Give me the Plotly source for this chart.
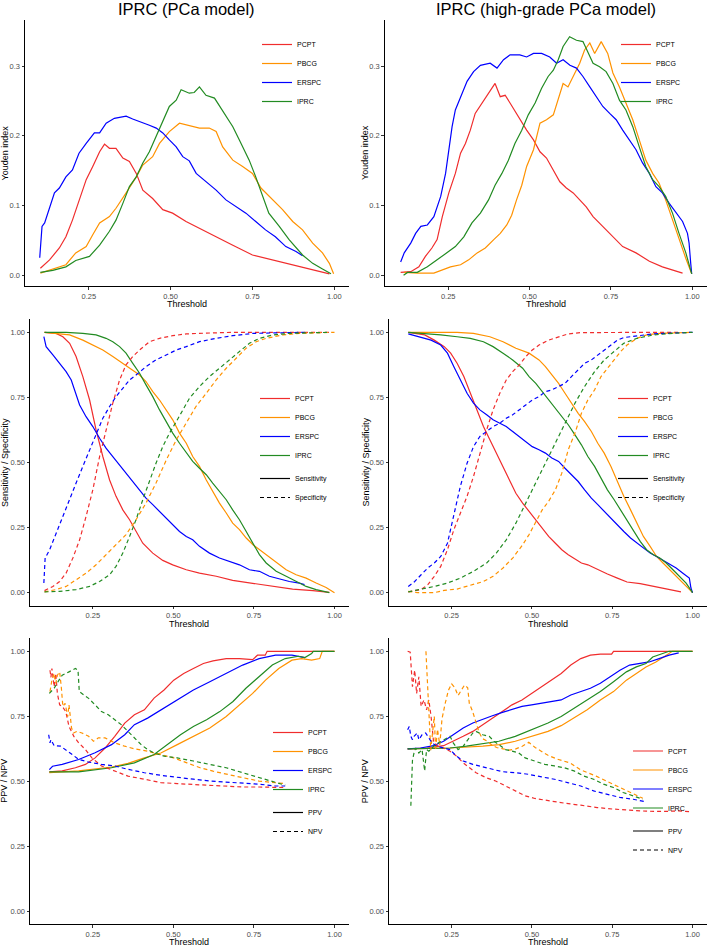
import plotly.graph_objects as go

# ---- data ----
models = ["PCPT", "PBCG", "ERSPC", "IPRC"]
x_ticks = [0.25, 0.5, 0.75, 1.0]
x_tick_labels = ["0.25", "0.50", "0.75", "1.00"]
yi_ticks = [0.0, 0.1, 0.2, 0.3]
yi_tick_labels = ["0.0", "0.1", "0.2", "0.3"]
p_ticks = [0.0, 0.25, 0.5, 0.75, 1.0]
p_tick_labels = ["0.00", "0.25", "0.50", "0.75", "1.00"]

# Youden index, PCa model
yi1_x_pcpt = [0.102, 0.13, 0.16, 0.18, 0.20, 0.22, 0.242, 0.262, 0.283, 0.298, 0.313, 0.333, 0.354, 0.374, 0.395, 0.415, 0.445, 0.476, 0.506, 0.547, 0.588, 0.639, 0.69, 0.75, 0.81, 0.873, 0.934, 0.985]
yi1_pcpt = [0.010, 0.022, 0.039, 0.055, 0.079, 0.108, 0.137, 0.156, 0.177, 0.188, 0.182, 0.182, 0.168, 0.163, 0.146, 0.122, 0.110, 0.094, 0.089, 0.077, 0.067, 0.055, 0.043, 0.029, 0.022, 0.015, 0.008, 0.002]
yi1_x_pbcg = [0.102, 0.14, 0.18, 0.21, 0.242, 0.262, 0.283, 0.313, 0.333, 0.364, 0.395, 0.415, 0.445, 0.466, 0.496, 0.527, 0.557, 0.588, 0.618, 0.639, 0.659, 0.69, 0.72, 0.75, 0.776, 0.801, 0.842, 0.873, 0.903, 0.934, 0.964, 0.985, 0.998]
yi1_pbcg = [0.003, 0.009, 0.015, 0.032, 0.041, 0.058, 0.075, 0.084, 0.096, 0.118, 0.141, 0.158, 0.170, 0.189, 0.206, 0.218, 0.215, 0.211, 0.211, 0.206, 0.184, 0.165, 0.156, 0.146, 0.125, 0.113, 0.094, 0.077, 0.065, 0.046, 0.032, 0.017, 0.002]
yi1_x_erspc = [0.100, 0.107, 0.115, 0.13, 0.145, 0.16, 0.18, 0.20, 0.22, 0.242, 0.267, 0.283, 0.303, 0.328, 0.364, 0.384, 0.415, 0.435, 0.456, 0.476, 0.496, 0.517, 0.537, 0.557, 0.578, 0.608, 0.639, 0.669, 0.70, 0.73, 0.76, 0.79, 0.82, 0.852, 0.883, 0.903]
yi1_erspc = [0.025, 0.070, 0.075, 0.098, 0.118, 0.125, 0.141, 0.151, 0.175, 0.189, 0.204, 0.204, 0.218, 0.225, 0.228, 0.224, 0.219, 0.215, 0.211, 0.204, 0.194, 0.184, 0.170, 0.164, 0.146, 0.134, 0.122, 0.108, 0.098, 0.089, 0.077, 0.065, 0.055, 0.041, 0.034, 0.028]
yi1_x_iprc = [0.102, 0.14, 0.18, 0.21, 0.252, 0.283, 0.313, 0.333, 0.354, 0.374, 0.395, 0.415, 0.435, 0.456, 0.476, 0.496, 0.517, 0.532, 0.557, 0.572, 0.588, 0.608, 0.634, 0.659, 0.69, 0.71, 0.74, 0.76, 0.781, 0.80, 0.832, 0.862, 0.903, 0.934, 0.964, 0.99]
yi1_iprc = [0.004, 0.007, 0.012, 0.021, 0.027, 0.043, 0.063, 0.079, 0.103, 0.127, 0.141, 0.161, 0.177, 0.199, 0.220, 0.242, 0.251, 0.266, 0.261, 0.262, 0.270, 0.258, 0.254, 0.235, 0.213, 0.194, 0.165, 0.141, 0.113, 0.089, 0.070, 0.051, 0.029, 0.017, 0.009, 0.002]

# Youden index, high-grade PCa model
yi2_x_pcpt = [0.104, 0.135, 0.16, 0.18, 0.20, 0.216, 0.232, 0.252, 0.272, 0.288, 0.303, 0.318, 0.333, 0.354, 0.374, 0.394, 0.41, 0.425, 0.44, 0.46, 0.476, 0.491, 0.512, 0.532, 0.552, 0.573, 0.593, 0.613, 0.634, 0.654, 0.674, 0.695, 0.725, 0.756, 0.786, 0.827, 0.868, 0.908, 0.97]
yi2_pcpt = [0.004, 0.005, 0.012, 0.027, 0.039, 0.051, 0.084, 0.118, 0.146, 0.175, 0.189, 0.208, 0.232, 0.247, 0.261, 0.275, 0.256, 0.258, 0.247, 0.232, 0.218, 0.208, 0.194, 0.177, 0.168, 0.151, 0.134, 0.125, 0.118, 0.108, 0.098, 0.084, 0.070, 0.055, 0.041, 0.032, 0.020, 0.012, 0.003]
yi2_x_pbcg = [0.115, 0.155, 0.206, 0.237, 0.257, 0.288, 0.313, 0.339, 0.364, 0.39, 0.41, 0.43, 0.445, 0.46, 0.476, 0.491, 0.512, 0.532, 0.552, 0.573, 0.588, 0.603, 0.618, 0.634, 0.654, 0.669, 0.685, 0.70, 0.72, 0.74, 0.756, 0.776, 0.796, 0.817, 0.837, 0.857, 0.878, 0.898, 0.918, 0.939, 0.959, 0.98, 0.998]
yi2_pbcg = [0.004, 0.003, 0.003, 0.008, 0.012, 0.015, 0.022, 0.032, 0.039, 0.051, 0.060, 0.072, 0.086, 0.108, 0.129, 0.156, 0.180, 0.218, 0.223, 0.230, 0.251, 0.275, 0.270, 0.285, 0.304, 0.323, 0.333, 0.318, 0.335, 0.318, 0.290, 0.270, 0.247, 0.223, 0.194, 0.165, 0.146, 0.132, 0.108, 0.079, 0.051, 0.024, 0.002]
yi2_x_erspc = [0.104, 0.115, 0.135, 0.15, 0.166, 0.186, 0.206, 0.227, 0.242, 0.252, 0.262, 0.272, 0.288, 0.308, 0.328, 0.349, 0.379, 0.40, 0.42, 0.44, 0.47, 0.491, 0.512, 0.537, 0.562, 0.583, 0.603, 0.624, 0.644, 0.664, 0.685, 0.705, 0.725, 0.746, 0.766, 0.786, 0.807, 0.827, 0.847, 0.868, 0.888, 0.908, 0.929, 0.949, 0.97, 0.985, 0.99, 0.995, 0.998]
yi2_erspc = [0.019, 0.032, 0.046, 0.060, 0.070, 0.072, 0.084, 0.113, 0.146, 0.180, 0.213, 0.237, 0.256, 0.278, 0.292, 0.301, 0.304, 0.297, 0.309, 0.316, 0.316, 0.313, 0.318, 0.318, 0.313, 0.304, 0.309, 0.301, 0.297, 0.285, 0.270, 0.256, 0.242, 0.232, 0.223, 0.208, 0.194, 0.180, 0.161, 0.146, 0.127, 0.118, 0.103, 0.091, 0.077, 0.060, 0.046, 0.017, 0.002]
yi2_x_iprc = [0.113, 0.125, 0.155, 0.186, 0.216, 0.247, 0.272, 0.298, 0.323, 0.349, 0.374, 0.394, 0.415, 0.435, 0.455, 0.476, 0.496, 0.517, 0.537, 0.557, 0.573, 0.588, 0.603, 0.623, 0.644, 0.664, 0.68, 0.695, 0.715, 0.735, 0.756, 0.776, 0.796, 0.817, 0.837, 0.857, 0.878, 0.898, 0.918, 0.939, 0.959, 0.98, 0.998]
yi2_iprc = [0.000, 0.004, 0.004, 0.012, 0.022, 0.032, 0.041, 0.055, 0.075, 0.089, 0.108, 0.129, 0.146, 0.165, 0.189, 0.208, 0.230, 0.247, 0.268, 0.285, 0.294, 0.309, 0.328, 0.342, 0.337, 0.335, 0.318, 0.304, 0.299, 0.292, 0.275, 0.251, 0.237, 0.213, 0.184, 0.156, 0.137, 0.127, 0.113, 0.089, 0.060, 0.032, 0.002]

# Sensitivity / specificity, PCa model
ss1_x_pcpt_sens = [0.10, 0.136, 0.157, 0.178, 0.198, 0.219, 0.24, 0.26, 0.281, 0.302, 0.322, 0.343, 0.364, 0.384, 0.405, 0.436, 0.467, 0.498, 0.54, 0.581, 0.633, 0.684, 0.747, 0.809, 0.87, 0.933, 0.984]
ss1_pcpt_sens = [1.0, 0.996, 0.983, 0.958, 0.907, 0.83, 0.74, 0.625, 0.523, 0.433, 0.37, 0.318, 0.28, 0.235, 0.19, 0.152, 0.124, 0.107, 0.088, 0.075, 0.063, 0.047, 0.035, 0.024, 0.014, 0.008, 0.001]
ss1_x_pcpt_spec = [0.10, 0.126, 0.147, 0.167, 0.188, 0.209, 0.229, 0.25, 0.271, 0.291, 0.312, 0.333, 0.353, 0.374, 0.395, 0.426, 0.457, 0.498, 0.54, 0.602, 0.684, 0.80, 0.90, 0.984]
ss1_pcpt_spec = [0.008, 0.024, 0.043, 0.075, 0.133, 0.203, 0.293, 0.395, 0.523, 0.625, 0.728, 0.817, 0.875, 0.907, 0.932, 0.964, 0.977, 0.987, 0.994, 0.997, 1.0, 1.0, 1.0, 1.0]
ss1_x_pbcg_sens = [0.10, 0.136, 0.178, 0.219, 0.25, 0.281, 0.312, 0.343, 0.374, 0.395, 0.415, 0.436, 0.457, 0.478, 0.498, 0.519, 0.54, 0.56, 0.581, 0.602, 0.622, 0.643, 0.664, 0.684, 0.705, 0.726, 0.747, 0.767, 0.788, 0.819, 0.85, 0.881, 0.912, 0.943, 0.974, 1.0]
ss1_pbcg_sens = [1.0, 0.996, 0.99, 0.97, 0.951, 0.932, 0.907, 0.881, 0.855, 0.836, 0.811, 0.772, 0.74, 0.702, 0.664, 0.613, 0.574, 0.523, 0.485, 0.433, 0.389, 0.344, 0.306, 0.267, 0.242, 0.21, 0.184, 0.165, 0.146, 0.114, 0.088, 0.069, 0.056, 0.037, 0.02, 0.0]
ss1_x_pbcg_spec = [0.10, 0.136, 0.167, 0.198, 0.229, 0.26, 0.291, 0.322, 0.353, 0.384, 0.415, 0.446, 0.478, 0.509, 0.54, 0.57, 0.602, 0.633, 0.664, 0.695, 0.726, 0.757, 0.788, 0.84, 0.891, 1.0]
ss1_pbcg_spec = [0.003, 0.012, 0.024, 0.05, 0.075, 0.107, 0.146, 0.184, 0.223, 0.28, 0.344, 0.421, 0.51, 0.587, 0.651, 0.715, 0.766, 0.817, 0.862, 0.9, 0.939, 0.964, 0.977, 0.99, 0.996, 1.0]
ss1_x_erspc_sens = [0.098, 0.105, 0.126, 0.147, 0.167, 0.183, 0.198, 0.209, 0.229, 0.25, 0.271, 0.291, 0.312, 0.333, 0.353, 0.374, 0.395, 0.415, 0.436, 0.457, 0.478, 0.498, 0.519, 0.54, 0.56, 0.581, 0.612, 0.643, 0.674, 0.705, 0.736, 0.767, 0.798, 0.829, 0.86, 0.891, 0.907]
ss1_erspc_sens = [0.983, 0.945, 0.913, 0.881, 0.849, 0.817, 0.766, 0.721, 0.676, 0.638, 0.593, 0.555, 0.523, 0.491, 0.459, 0.427, 0.395, 0.363, 0.338, 0.312, 0.286, 0.261, 0.235, 0.216, 0.203, 0.178, 0.152, 0.133, 0.12, 0.107, 0.088, 0.082, 0.063, 0.052, 0.043, 0.037, 0.031]
ss1_x_erspc_spec = [0.098, 0.102, 0.116, 0.136, 0.157, 0.178, 0.198, 0.219, 0.24, 0.26, 0.281, 0.302, 0.322, 0.343, 0.364, 0.384, 0.415, 0.446, 0.478, 0.509, 0.54, 0.581, 0.633, 0.684, 0.747, 0.84, 0.907]
ss1_erspc_spec = [0.037, 0.133, 0.165, 0.229, 0.293, 0.357, 0.421, 0.485, 0.549, 0.613, 0.67, 0.715, 0.753, 0.785, 0.817, 0.836, 0.868, 0.894, 0.913, 0.932, 0.945, 0.964, 0.977, 0.987, 0.996, 1.0, 1.0]
ss1_x_iprc_sens = [0.10, 0.167, 0.219, 0.26, 0.291, 0.312, 0.333, 0.353, 0.374, 0.395, 0.415, 0.436, 0.457, 0.478, 0.498, 0.519, 0.54, 0.56, 0.581, 0.602, 0.622, 0.643, 0.664, 0.684, 0.705, 0.726, 0.747, 0.767, 0.788, 0.819, 0.85, 0.881, 0.912, 0.943, 0.984]
ss1_iprc_sens = [1.0, 1.0, 0.996, 0.99, 0.977, 0.964, 0.945, 0.92, 0.881, 0.843, 0.798, 0.753, 0.702, 0.657, 0.613, 0.574, 0.536, 0.504, 0.478, 0.453, 0.421, 0.389, 0.357, 0.318, 0.28, 0.235, 0.19, 0.146, 0.114, 0.082, 0.063, 0.043, 0.024, 0.012, 0.0]
ss1_x_iprc_spec = [0.10, 0.147, 0.198, 0.24, 0.271, 0.302, 0.322, 0.343, 0.364, 0.384, 0.405, 0.426, 0.446, 0.467, 0.488, 0.509, 0.529, 0.55, 0.581, 0.612, 0.643, 0.674, 0.705, 0.736, 0.767, 0.809, 0.86, 0.984]
ss1_iprc_spec = [0.003, 0.005, 0.012, 0.024, 0.043, 0.069, 0.101, 0.152, 0.216, 0.28, 0.357, 0.433, 0.497, 0.561, 0.613, 0.657, 0.702, 0.747, 0.792, 0.83, 0.862, 0.894, 0.926, 0.958, 0.977, 0.99, 0.996, 1.0]

# Sensitivity / specificity, high-grade PCa model
ss2_x_pcpt_sens = [0.115, 0.166, 0.196, 0.227, 0.247, 0.267, 0.288, 0.308, 0.328, 0.349, 0.369, 0.389, 0.41, 0.43, 0.45, 0.471, 0.491, 0.512, 0.532, 0.552, 0.573, 0.593, 0.613, 0.634, 0.654, 0.674, 0.705, 0.735, 0.766, 0.796, 0.837, 0.878, 0.918, 0.964]
ss2_pcpt_sens = [1.0, 0.99, 0.97, 0.945, 0.92, 0.881, 0.83, 0.766, 0.702, 0.638, 0.587, 0.536, 0.485, 0.433, 0.382, 0.344, 0.312, 0.28, 0.248, 0.216, 0.19, 0.165, 0.146, 0.129, 0.114, 0.107, 0.088, 0.072, 0.056, 0.041, 0.035, 0.024, 0.014, 0.003]
ss2_x_pcpt_spec = [0.115, 0.155, 0.176, 0.196, 0.216, 0.237, 0.257, 0.277, 0.298, 0.318, 0.338, 0.359, 0.379, 0.40, 0.42, 0.44, 0.461, 0.481, 0.501, 0.522, 0.552, 0.583, 0.613, 0.654, 0.80, 0.964]
ss2_pcpt_spec = [0.003, 0.012, 0.031, 0.063, 0.101, 0.165, 0.242, 0.306, 0.37, 0.446, 0.536, 0.625, 0.702, 0.766, 0.817, 0.849, 0.875, 0.907, 0.932, 0.951, 0.97, 0.983, 0.994, 0.999, 1.0, 1.0]
ss2_x_pbcg_sens = [0.115, 0.267, 0.318, 0.369, 0.41, 0.45, 0.491, 0.522, 0.542, 0.562, 0.583, 0.603, 0.623, 0.644, 0.664, 0.685, 0.705, 0.725, 0.746, 0.766, 0.786, 0.807, 0.827, 0.847, 0.868, 0.888, 0.908, 0.929, 0.949, 0.97, 0.99, 1.0]
ss2_pbcg_sens = [1.0, 1.0, 0.996, 0.983, 0.964, 0.939, 0.92, 0.894, 0.868, 0.836, 0.804, 0.766, 0.728, 0.689, 0.657, 0.619, 0.574, 0.536, 0.485, 0.427, 0.37, 0.318, 0.267, 0.216, 0.178, 0.139, 0.114, 0.088, 0.063, 0.037, 0.014, 0.0]
ss2_x_pbcg_spec = [0.115, 0.145, 0.196, 0.227, 0.267, 0.308, 0.349, 0.379, 0.41, 0.44, 0.471, 0.491, 0.512, 0.532, 0.552, 0.573, 0.593, 0.613, 0.634, 0.654, 0.674, 0.695, 0.715, 0.735, 0.756, 0.776, 0.796, 0.827, 0.857, 0.898, 1.0]
ss2_pbcg_spec = [0.005, 0.0, 0.0, 0.009, 0.014, 0.027, 0.043, 0.063, 0.095, 0.133, 0.184, 0.223, 0.274, 0.318, 0.351, 0.395, 0.459, 0.549, 0.613, 0.689, 0.74, 0.779, 0.83, 0.862, 0.894, 0.926, 0.951, 0.977, 0.99, 0.996, 1.0]
ss2_x_erspc_sens = [0.115, 0.145, 0.186, 0.216, 0.237, 0.257, 0.277, 0.298, 0.318, 0.338, 0.359, 0.379, 0.40, 0.42, 0.44, 0.461, 0.481, 0.501, 0.522, 0.542, 0.562, 0.583, 0.603, 0.623, 0.644, 0.664, 0.685, 0.705, 0.725, 0.746, 0.766, 0.786, 0.807, 0.827, 0.847, 0.868, 0.888, 0.908, 0.929, 0.949, 0.97, 0.99, 0.995, 1.0]
ss2_erspc_sens = [0.994, 0.983, 0.97, 0.951, 0.92, 0.868, 0.817, 0.766, 0.728, 0.702, 0.683, 0.664, 0.651, 0.638, 0.619, 0.6, 0.581, 0.561, 0.549, 0.536, 0.517, 0.504, 0.478, 0.453, 0.427, 0.395, 0.363, 0.338, 0.312, 0.286, 0.261, 0.235, 0.21, 0.19, 0.171, 0.152, 0.139, 0.124, 0.107, 0.095, 0.075, 0.056, 0.018, 0.0]
ss2_x_erspc_spec = [0.115, 0.135, 0.155, 0.176, 0.196, 0.216, 0.237, 0.257, 0.277, 0.298, 0.318, 0.338, 0.359, 0.379, 0.40, 0.42, 0.44, 0.461, 0.481, 0.501, 0.522, 0.542, 0.562, 0.583, 0.603, 0.623, 0.644, 0.664, 0.685, 0.705, 0.725, 0.746, 0.766, 0.786, 0.827, 0.878, 0.98, 1.0]
ss2_erspc_spec = [0.024, 0.043, 0.069, 0.095, 0.114, 0.139, 0.19, 0.293, 0.408, 0.497, 0.561, 0.6, 0.619, 0.638, 0.651, 0.67, 0.683, 0.702, 0.721, 0.74, 0.753, 0.772, 0.779, 0.792, 0.804, 0.83, 0.855, 0.881, 0.894, 0.913, 0.932, 0.951, 0.97, 0.98, 0.986, 0.994, 0.999, 1.0]
ss2_x_iprc_sens = [0.115, 0.166, 0.216, 0.267, 0.308, 0.349, 0.379, 0.41, 0.44, 0.471, 0.491, 0.512, 0.532, 0.552, 0.573, 0.593, 0.613, 0.634, 0.654, 0.674, 0.695, 0.715, 0.735, 0.756, 0.776, 0.796, 0.817, 0.837, 0.857, 0.878, 0.898, 0.918, 0.939, 0.959, 0.98, 1.0]
ss2_iprc_sens = [1.0, 0.996, 0.99, 0.983, 0.977, 0.964, 0.945, 0.92, 0.894, 0.862, 0.83, 0.804, 0.772, 0.74, 0.708, 0.676, 0.645, 0.606, 0.568, 0.523, 0.485, 0.44, 0.395, 0.357, 0.318, 0.28, 0.235, 0.197, 0.165, 0.146, 0.133, 0.114, 0.088, 0.063, 0.037, 0.0]
ss2_x_iprc_spec = [0.115, 0.155, 0.196, 0.237, 0.277, 0.318, 0.359, 0.389, 0.42, 0.45, 0.481, 0.512, 0.542, 0.573, 0.603, 0.634, 0.664, 0.695, 0.725, 0.756, 0.786, 0.827, 0.878, 0.939, 1.0]
ss2_iprc_spec = [0.003, 0.012, 0.024, 0.037, 0.056, 0.082, 0.114, 0.152, 0.203, 0.267, 0.344, 0.421, 0.497, 0.574, 0.651, 0.728, 0.792, 0.849, 0.894, 0.926, 0.958, 0.977, 0.99, 0.996, 1.0]

# PPV / NPV, PCa model
pv1_x_pcpt_ppv = [0.115, 0.155, 0.196, 0.227, 0.257, 0.288, 0.318, 0.349, 0.379, 0.41, 0.44, 0.471, 0.501, 0.532, 0.562, 0.593, 0.623, 0.664, 0.705, 0.746, 0.761, 0.785, 0.791, 1.0]
pv1_pcpt_ppv = [0.536, 0.54, 0.552, 0.565, 0.59, 0.628, 0.673, 0.724, 0.756, 0.775, 0.82, 0.851, 0.889, 0.915, 0.934, 0.953, 0.963, 0.972, 0.972, 0.968, 0.985, 0.985, 1.0, 1.0]
pv1_x_pcpt_npv = [0.117, 0.12, 0.123, 0.13, 0.135, 0.14, 0.147, 0.155, 0.166, 0.176, 0.191, 0.206, 0.227, 0.247, 0.277, 0.318, 0.359, 0.41, 0.461, 0.512, 0.562, 0.613, 0.664, 0.715, 0.766, 0.817, 0.847]
pv1_pcpt_npv = [0.927, 0.90, 0.934, 0.864, 0.915, 0.838, 0.794, 0.788, 0.768, 0.711, 0.673, 0.648, 0.622, 0.59, 0.559, 0.539, 0.52, 0.508, 0.495, 0.491, 0.488, 0.486, 0.482, 0.478, 0.478, 0.476, 0.476]
pv1_x_pbcg_ppv = [0.115, 0.206, 0.308, 0.359, 0.41, 0.461, 0.512, 0.562, 0.613, 0.664, 0.705, 0.746, 0.786, 0.827, 0.868, 0.898, 0.929, 0.954, 0.962, 1.0]
pv1_pbcg_ppv = [0.533, 0.54, 0.555, 0.569, 0.59, 0.609, 0.641, 0.673, 0.705, 0.749, 0.794, 0.838, 0.889, 0.934, 0.966, 0.972, 0.966, 0.972, 1.0, 1.0]
pv1_x_pbcg_npv = [0.117, 0.123, 0.13, 0.135, 0.14, 0.147, 0.152, 0.157, 0.164, 0.172, 0.176, 0.184, 0.19, 0.201, 0.216, 0.237, 0.252, 0.267, 0.288, 0.318, 0.349, 0.379, 0.42, 0.461, 0.501, 0.542, 0.583, 0.623, 0.664, 0.715, 0.766, 0.817, 0.847]
pv1_pbcg_npv = [0.845, 0.889, 0.915, 0.877, 0.908, 0.921, 0.864, 0.788, 0.80, 0.749, 0.794, 0.705, 0.686, 0.692, 0.686, 0.673, 0.654, 0.667, 0.667, 0.648, 0.635, 0.625, 0.616, 0.603, 0.59, 0.571, 0.552, 0.539, 0.527, 0.514, 0.501, 0.495, 0.491]
pv1_x_erspc_ppv = [0.115, 0.125, 0.155, 0.206, 0.257, 0.308, 0.349, 0.379, 0.42, 0.461, 0.512, 0.562, 0.613, 0.664, 0.715, 0.766, 0.817, 0.868, 0.908]
pv1_erspc_ppv = [0.545, 0.558, 0.565, 0.584, 0.61, 0.641, 0.679, 0.718, 0.743, 0.775, 0.813, 0.851, 0.883, 0.915, 0.947, 0.972, 0.985, 0.985, 0.976]
pv1_x_erspc_npv = [0.113, 0.117, 0.12, 0.13, 0.15, 0.166, 0.186, 0.206, 0.237, 0.277, 0.318, 0.359, 0.41, 0.461, 0.512, 0.562, 0.613, 0.664, 0.715, 0.766, 0.817, 0.847]
pv1_erspc_npv = [0.679, 0.648, 0.66, 0.637, 0.635, 0.622, 0.603, 0.584, 0.574, 0.565, 0.559, 0.546, 0.533, 0.523, 0.514, 0.508, 0.501, 0.497, 0.492, 0.489, 0.482, 0.482]
pv1_x_iprc_ppv = [0.115, 0.206, 0.308, 0.379, 0.44, 0.481, 0.522, 0.562, 0.603, 0.644, 0.685, 0.725, 0.766, 0.807, 0.847, 0.888, 0.908, 0.929, 0.934, 1.0]
pv1_iprc_ppv = [0.536, 0.536, 0.552, 0.571, 0.603, 0.641, 0.679, 0.711, 0.737, 0.768, 0.807, 0.858, 0.902, 0.947, 0.972, 0.981, 0.976, 0.991, 1.0, 1.0]
pv1_x_iprc_npv = [0.115, 0.13, 0.145, 0.155, 0.176, 0.196, 0.204, 0.208, 0.222, 0.237, 0.257, 0.277, 0.298, 0.318, 0.338, 0.359, 0.379, 0.40, 0.42, 0.44, 0.471, 0.512, 0.562, 0.613, 0.664, 0.715, 0.766, 0.817, 0.847]
pv1_iprc_npv = [0.838, 0.858, 0.889, 0.908, 0.921, 0.934, 0.927, 0.845, 0.832, 0.819, 0.794, 0.768, 0.756, 0.737, 0.718, 0.692, 0.667, 0.641, 0.622, 0.609, 0.597, 0.59, 0.578, 0.565, 0.552, 0.533, 0.514, 0.497, 0.485]

# PPV / NPV, high-grade PCa model
pv2_x_pcpt_ppv = [0.113, 0.174, 0.225, 0.255, 0.286, 0.316, 0.347, 0.377, 0.408, 0.438, 0.469, 0.499, 0.53, 0.56, 0.591, 0.621, 0.652, 0.682, 0.713, 0.748, 0.754, 1.0]
pv2_pcpt_ppv = [0.625, 0.628, 0.637, 0.654, 0.673, 0.692, 0.718, 0.743, 0.768, 0.794, 0.813, 0.838, 0.864, 0.889, 0.915, 0.947, 0.972, 0.985, 0.989, 0.989, 1.0, 1.0]
pv2_x_pcpt_npv = [0.113, 0.121, 0.128, 0.135, 0.141, 0.148, 0.155, 0.164, 0.172, 0.179, 0.186, 0.194, 0.209, 0.225, 0.245, 0.265, 0.286, 0.306, 0.326, 0.357, 0.387, 0.418, 0.448, 0.479, 0.509, 0.55, 0.601, 0.652, 0.703, 0.754, 0.804, 0.855, 0.906, 0.957, 0.998]
pv2_pcpt_npv = [1.0, 0.997, 0.864, 0.927, 0.838, 0.902, 0.788, 0.813, 0.775, 0.813, 0.749, 0.648, 0.635, 0.628, 0.616, 0.597, 0.571, 0.552, 0.533, 0.514, 0.501, 0.482, 0.463, 0.444, 0.434, 0.425, 0.416, 0.408, 0.399, 0.393, 0.389, 0.385, 0.384, 0.386, 0.383]
pv2_x_pbcg_ppv = [0.113, 0.245, 0.347, 0.398, 0.448, 0.499, 0.55, 0.591, 0.631, 0.672, 0.713, 0.754, 0.794, 0.825, 0.855, 0.886, 0.916, 0.937, 1.0]
pv2_pbcg_ppv = [0.625, 0.628, 0.635, 0.641, 0.654, 0.673, 0.692, 0.714, 0.743, 0.775, 0.813, 0.845, 0.889, 0.915, 0.94, 0.959, 0.985, 1.0, 1.0]
pv2_x_pbcg_npv = [0.170, 0.175, 0.18, 0.185, 0.19, 0.196, 0.20, 0.206, 0.213, 0.22, 0.23, 0.24, 0.25, 0.26, 0.27, 0.28, 0.29, 0.30, 0.305, 0.315, 0.325, 0.335, 0.345, 0.36, 0.375, 0.39, 0.41, 0.43, 0.45, 0.47, 0.49, 0.51, 0.53, 0.55, 0.58, 0.62, 0.65, 0.70, 0.75, 0.80, 0.845]
pv2_pbcg_npv = [1.0, 0.86, 0.70, 0.62, 0.68, 0.75, 0.62, 0.70, 0.64, 0.74, 0.80, 0.85, 0.875, 0.86, 0.83, 0.85, 0.87, 0.86, 0.80, 0.77, 0.73, 0.69, 0.665, 0.655, 0.64, 0.63, 0.625, 0.62, 0.625, 0.635, 0.65, 0.63, 0.615, 0.60, 0.585, 0.57, 0.545, 0.52, 0.49, 0.46, 0.435]
pv2_x_erspc_ppv = [0.113, 0.153, 0.194, 0.225, 0.255, 0.286, 0.316, 0.347, 0.377, 0.408, 0.438, 0.469, 0.499, 0.53, 0.56, 0.591, 0.621, 0.652, 0.682, 0.713, 0.743, 0.774, 0.804, 0.835, 0.865, 0.896, 0.927, 0.957]
pv2_erspc_ppv = [0.625, 0.628, 0.637, 0.654, 0.679, 0.705, 0.724, 0.739, 0.752, 0.765, 0.777, 0.788, 0.794, 0.80, 0.807, 0.813, 0.832, 0.845, 0.858, 0.877, 0.902, 0.927, 0.947, 0.953, 0.959, 0.972, 0.985, 0.994]
pv2_x_erspc_npv = [0.113, 0.118, 0.123, 0.128, 0.133, 0.143, 0.148, 0.158, 0.169, 0.179, 0.189, 0.204, 0.225, 0.245, 0.265, 0.286, 0.316, 0.347, 0.377, 0.408, 0.448, 0.489, 0.53, 0.57, 0.611, 0.652, 0.692, 0.733, 0.774, 0.815, 0.85]
pv2_erspc_npv = [0.698, 0.711, 0.673, 0.66, 0.673, 0.686, 0.66, 0.679, 0.686, 0.667, 0.648, 0.635, 0.628, 0.622, 0.597, 0.578, 0.565, 0.555, 0.546, 0.537, 0.533, 0.527, 0.517, 0.508, 0.495, 0.482, 0.463, 0.45, 0.438, 0.431, 0.422]
pv2_x_iprc_ppv = [0.113, 0.245, 0.296, 0.347, 0.397, 0.448, 0.499, 0.55, 0.591, 0.631, 0.672, 0.713, 0.754, 0.794, 0.825, 0.855, 0.876, 0.906, 0.927, 1.0]
pv2_iprc_ppv = [0.625, 0.628, 0.635, 0.645, 0.654, 0.673, 0.698, 0.724, 0.749, 0.781, 0.813, 0.845, 0.883, 0.921, 0.94, 0.953, 0.978, 0.991, 1.0, 1.0]
pv2_x_iprc_npv = [0.123, 0.128, 0.133, 0.138, 0.148, 0.158, 0.166, 0.172, 0.179, 0.194, 0.209, 0.225, 0.245, 0.255, 0.27, 0.286, 0.306, 0.316, 0.326, 0.336, 0.347, 0.367, 0.382, 0.397, 0.418, 0.438, 0.459, 0.479, 0.509, 0.54, 0.57, 0.601, 0.631, 0.662, 0.692, 0.723, 0.754, 0.784, 0.815, 0.845]
pv2_iprc_npv = [0.406, 0.58, 0.61, 0.628, 0.609, 0.622, 0.54, 0.622, 0.616, 0.635, 0.648, 0.66, 0.673, 0.648, 0.622, 0.635, 0.667, 0.686, 0.692, 0.686, 0.679, 0.673, 0.654, 0.641, 0.622, 0.616, 0.609, 0.59, 0.578, 0.565, 0.559, 0.552, 0.54, 0.52, 0.508, 0.489, 0.476, 0.457, 0.444, 0.431]

# ---- styling ----
model_colors = ["#F02D2D", "#FF9200", "#0000FF", "#228B22"]
font_family = "Liberation Sans, Arial, Helvetica, sans-serif"
W, H = 709, 946
spec_dash = "4px,3px"

fig = go.Figure()


def sfx(p):
    return "" if p == 1 else str(p)


def add_curve(p, x, y, model, dash="solid", legend=True):
    i = models.index(model)
    fig.add_trace(go.Scatter(
        x=x, y=y, mode="lines", name=model,
        line=dict(color=model_colors[i], width=1.2, dash=dash),
        xaxis="x" + sfx(p), yaxis="y" + sfx(p),
        legend="legend" + sfx(p), legendgroup="models",
        showlegend=legend, hoverinfo="skip"))


def add_linetype_key(p, names):
    for name, dash in zip(names, ["solid", spec_dash]):
        fig.add_trace(go.Scatter(
            x=[None], y=[None], mode="lines", name=name,
            line=dict(color="black", width=1.2, dash=dash),
            xaxis="x" + sfx(p), yaxis="y" + sfx(p),
            legend="legend" + sfx(p), legendgroup="linetype",
            showlegend=True, hoverinfo="skip"))


# panel 1 / 2: Youden index
for m, x, y in zip(models, [yi1_x_pcpt, yi1_x_pbcg, yi1_x_erspc, yi1_x_iprc],
                   [yi1_pcpt, yi1_pbcg, yi1_erspc, yi1_iprc]):
    add_curve(1, x, y, m)
for m, x, y in zip(models, [yi2_x_pcpt, yi2_x_pbcg, yi2_x_erspc, yi2_x_iprc],
                   [yi2_pcpt, yi2_pbcg, yi2_erspc, yi2_iprc]):
    add_curve(2, x, y, m)

# panel 3 / 4: sensitivity (solid) / specificity (dashed); 5 / 6: PPV / NPV
ss1 = [(ss1_x_pcpt_sens, ss1_pcpt_sens, ss1_x_pcpt_spec, ss1_pcpt_spec),
       (ss1_x_pbcg_sens, ss1_pbcg_sens, ss1_x_pbcg_spec, ss1_pbcg_spec),
       (ss1_x_erspc_sens, ss1_erspc_sens, ss1_x_erspc_spec, ss1_erspc_spec),
       (ss1_x_iprc_sens, ss1_iprc_sens, ss1_x_iprc_spec, ss1_iprc_spec)]
ss2 = [(ss2_x_pcpt_sens, ss2_pcpt_sens, ss2_x_pcpt_spec, ss2_pcpt_spec),
       (ss2_x_pbcg_sens, ss2_pbcg_sens, ss2_x_pbcg_spec, ss2_pbcg_spec),
       (ss2_x_erspc_sens, ss2_erspc_sens, ss2_x_erspc_spec, ss2_erspc_spec),
       (ss2_x_iprc_sens, ss2_iprc_sens, ss2_x_iprc_spec, ss2_iprc_spec)]
pv1 = [(pv1_x_pcpt_ppv, pv1_pcpt_ppv, pv1_x_pcpt_npv, pv1_pcpt_npv),
       (pv1_x_pbcg_ppv, pv1_pbcg_ppv, pv1_x_pbcg_npv, pv1_pbcg_npv),
       (pv1_x_erspc_ppv, pv1_erspc_ppv, pv1_x_erspc_npv, pv1_erspc_npv),
       (pv1_x_iprc_ppv, pv1_iprc_ppv, pv1_x_iprc_npv, pv1_iprc_npv)]
pv2 = [(pv2_x_pcpt_ppv, pv2_pcpt_ppv, pv2_x_pcpt_npv, pv2_pcpt_npv),
       (pv2_x_pbcg_ppv, pv2_pbcg_ppv, pv2_x_pbcg_npv, pv2_pbcg_npv),
       (pv2_x_erspc_ppv, pv2_erspc_ppv, pv2_x_erspc_npv, pv2_erspc_npv),
       (pv2_x_iprc_ppv, pv2_iprc_ppv, pv2_x_iprc_npv, pv2_iprc_npv)]

for p, series, keys in [(3, ss1, ["Sensitivity", "Specificity"]),
                        (4, ss2, ["Sensitivity", "Specificity"]),
                        (5, pv1, ["PPV", "NPV"]),
                        (6, pv2, ["PPV", "NPV"])]:
    for m, (xs, ys, xd, yd) in zip(models, series):
        add_curve(p, xs, ys, m)
    for m, (xs, ys, xd, yd) in zip(models, series):
        add_curve(p, xd, yd, m, dash=spec_dash, legend=False)
    add_linetype_key(p, keys)

# ---- layout: pixel boxes of the six panels (left, right, top, bottom) ----
boxes = {1: (25, 349, 20, 286), 2: (384.7, 707, 20, 286),
         3: (30, 349, 319.3, 605.7), 4: (389, 707, 319.3, 605.7),
         5: (30, 349, 638.3, 924.3), 6: (389, 707, 638.3, 924.3)}

axis_common = dict(showline=True, linecolor="black", linewidth=1, ticks="outside",
                   ticklen=2.5, tickwidth=1, tickcolor="#333333", showgrid=False,
                   zeroline=False, tickfont=dict(size=7.5, color="#4D4D4D"))
layout = {}
for p, (l, r, t, b) in boxes.items():
    s = sfx(p)
    layout["xaxis" + s] = dict(domain=[l / W, r / W], anchor="y" + s, range=[0.055, 1.045],
                               tickvals=x_ticks, ticktext=x_tick_labels, **axis_common)
    if p <= 2:
        yr, tv, tt = [-0.0155, 0.366], yi_ticks, yi_tick_labels
    else:
        yr, tv, tt = [-0.05, 1.05], p_ticks, p_tick_labels
    layout["yaxis" + s] = dict(domain=[1 - b / H, 1 - t / H], anchor="x" + s, range=yr,
                               tickvals=tv, ticktext=tt, **axis_common)

# legend: (text left px, legend top px)
legend_pos = {1: (297, 30), 2: (656, 30), 3: (295, 384), 4: (653, 384),
              5: (308, 718), 6: (668, 736.5)}
for p, (tx, ty) in legend_pos.items():
    layout["legend" + sfx(p)] = dict(
        x=(tx - 40) / W, y=1 - ty / H, xanchor="left", yanchor="top",
        bgcolor="rgba(0,0,0,0)", font=dict(size=7, color="black", family=font_family),
        traceorder="grouped", tracegroupgap=4, itemwidth=30)

annotations = []


def note(text, x, y, size, angle=0):
    annotations.append(dict(text=text, x=x / W, y=1 - y / H, xref="paper", yref="paper",
                            xanchor="center", yanchor="middle", showarrow=False,
                            textangle=angle, font=dict(size=size, color="black")))


note("IPRC (PCa model)", 187, 9, 16.5)
note("IPRC (high-grade PCa model)", 546, 9, 16.5)
for p, (l, r, t, b) in boxes.items():
    note("Threshold", (l + r) / 2, min(b + 18.3, 941.5), 9)
ytitles = {1: "Youden index", 2: "Youden index", 3: "Sensitivity / Specificity",
           4: "Sensitivity / Specificity", 5: "PPV / NPV", 6: "PPV / NPV"}
for p, (l, r, t, b) in boxes.items():
    note(ytitles[p], 4.5 if p % 2 else 365, (t + b) / 2, 9, angle=-90)

fig.update_layout(**layout)
fig.update_layout(width=W, height=H, margin=dict(l=0, r=0, t=0, b=0),
                  plot_bgcolor="white", paper_bgcolor="white",
                  font=dict(family=font_family, color="black"),
                  annotations=annotations, showlegend=True)

fig.write_html("out.html", config={"displayModeBar": False},
               post_script="document.body.style.margin='0';")
